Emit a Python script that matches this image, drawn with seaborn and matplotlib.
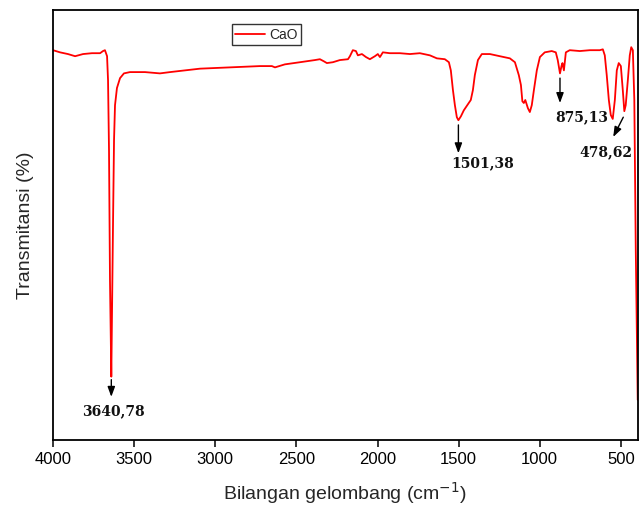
import numpy as np
import pandas as pd
import matplotlib
matplotlib.use("Agg")
import matplotlib.pyplot as plt
import seaborn as sns

# FTIR spectrum of CaO
wavenumber = [4000, 3957, 3908, 3864, 3815, 3760, 3710, 3692, 3680, 3667,
              3661, 3655, 3649, 3640.78, 3637, 3630, 3624, 3618, 3606, 3587,
              3563, 3526, 3433, 3341, 3279, 3187, 3094, 2909, 2725, 2651,
              2632, 2571, 2478, 2386, 2355, 2330, 2312, 2275, 2232, 2182,
              2170, 2152, 2133, 2121, 2096, 2071, 2047, 2016, 1998, 1985,
              1967, 1924, 1862, 1800, 1739, 1677, 1634, 1585, 1560, 1548,
              1535, 1523, 1511, 1501.38, 1486, 1468, 1443, 1425, 1412, 1400,
              1381, 1357, 1307, 1246, 1184, 1153, 1129, 1116, 1107, 1098,
              1089, 1073, 1061, 1049, 1036, 1018, 999, 969, 926, 901,
              889, 875.13, 866, 860, 851, 839, 815, 753, 691, 630,
              611, 599, 587, 574, 562, 550, 537, 525, 513, 500,
              488, 478.62, 470, 457, 445, 436, 426, 417, 408, 396]
transmittance = [90.7, 90.2, 89.8, 89.3, 89.8, 90.0, 90.0, 90.5, 90.7, 89.3,
                 83.7, 67.4, 37.2, 14.7, 27.9, 51.2, 69.8, 77.9, 81.9, 84.2,
                 85.3, 85.6, 85.6, 85.3, 85.6, 86.0, 86.4, 86.7, 87.0, 87.0,
                 86.7, 87.4, 87.9, 88.4, 88.6, 88.1, 87.7, 87.9, 88.4, 88.6,
                 89.3, 90.7, 90.5, 89.5, 89.8, 89.1, 88.6, 89.3, 89.8, 89.1,
                 90.2, 90.0, 90.0, 89.8, 90.0, 89.5, 88.8, 88.6, 87.9, 86.0,
                 81.4, 77.9, 75.1, 74.4, 75.3, 76.7, 78.1, 79.1, 81.4, 84.9,
                 88.4, 89.8, 89.8, 89.3, 88.8, 87.9, 84.9, 82.6, 78.8, 78.4,
                 79.1, 77.2, 76.3, 77.9, 81.4, 86.0, 89.1, 90.2, 90.5, 90.2,
                 88.4, 85.3, 87.0, 87.7, 86.0, 90.2, 90.7, 90.5, 90.7, 90.7,
                 90.9, 89.5, 84.9, 79.1, 75.6, 74.7, 79.1, 86.0, 87.7, 87.0,
                 81.4, 76.5, 77.9, 83.7, 89.5, 91.4, 90.7, 79.1, 44.2, 9.3]

peak_labels = ["3640,78", "1501,38", "875,13", "478,62"]
peak_wn = [3640.78, 1501.38, 875.13, 478.62]

# annotation layout (data coords): arrow tail, arrow head, label centre
arrow_tail = [(3640.78, 14.0), (1501.38, 73.3), (875.13, 84.2), (485, 75.1)]
arrow_head = [(3640.78, 10.0), (1501.38, 66.7), (875.13, 78.4), (547, 70.5)]
label_pos = [(3630, 6.7), (1351, 64.4), (741, 75.1), (590, 67.0)]

df = pd.DataFrame({"wn": wavenumber, "T": transmittance})

sns.set_style("ticks")
plt.rcParams["font.family"] = ["Liberation Sans", "DejaVu Sans"]

fig, ax = plt.subplots(figsize=(6.39, 5.12), dpi=100)
fig.subplots_adjust(left=0.083, right=0.998, top=0.980, bottom=0.141)

sns.lineplot(data=df, x="wn", y="T", color="#ff0000", linewidth=1.3,
             estimator=None, sort=False, label="CaO", ax=ax)

for lab, tail, head, pos in zip(peak_labels, arrow_tail, arrow_head, label_pos):
    ax.annotate("", xy=head, xytext=tail,
                arrowprops=dict(arrowstyle="-|>,head_length=0.6,head_width=0.22",
                                color="black", lw=1.0, shrinkA=0, shrinkB=0))
    ax.text(pos[0], pos[1], lab, ha="center", va="center", fontsize=10,
            fontweight="bold", family="DejaVu Serif", color="#111111")

ax.set_xlim(4000, 396)
ax.set_ylim(0, 100)
ax.set_xticks([4000, 3500, 3000, 2500, 2000, 1500, 1000, 500])
ax.set_yticks([])
ax.tick_params(axis="x", direction="out", length=5, width=1.1, labelsize=12,
               colors="black")
for sp in ax.spines.values():
    sp.set_visible(True)
    sp.set_linewidth(1.3)
    sp.set_color("black")

ax.set_xlabel("Bilangan gelombang (cm$^{-1}$)", fontsize=14, labelpad=10)
ax.set_ylabel("Transmitansi (%)", fontsize=14, labelpad=14)

leg = ax.legend(loc="upper left", bbox_to_anchor=(0.363, 0.953),
                bbox_transform=fig.transFigure, fontsize=10, frameon=True,
                fancybox=False, borderpad=0.25, handlelength=2.1,
                handletextpad=0.3, borderaxespad=0)
leg.get_frame().set_edgecolor("black")
leg.get_frame().set_linewidth(1.0)

fig.savefig("out.png", dpi=100)
